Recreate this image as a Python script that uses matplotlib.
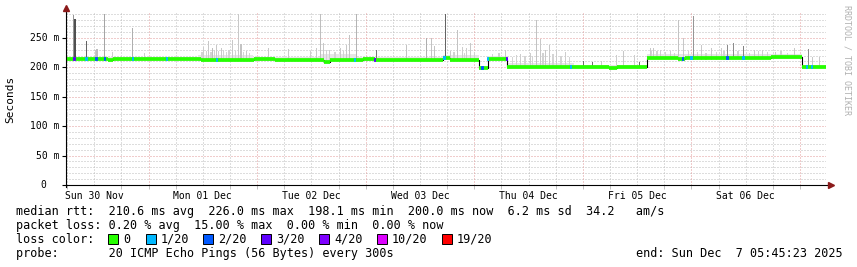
import numpy as np
import matplotlib
matplotlib.use("Agg")
import matplotlib.pyplot as plt
from matplotlib.patches import Rectangle

W, H = 857, 267

# time axis: hours since Sun 30 Nov 00:00, one week ending Sun Dec 7 05:45:23
t_start = 5.75
t_end = 173.75
day_labels = ["Sun 30 Nov", "Mon 01 Dec", "Tue 02 Dec", "Wed 03 Dec",
              "Thu 04 Dec", "Fri 05 Dec", "Sat 06 Dec"]

# median rtt as steps (start hour, level in ms)
med_start = [5.75, 15.0, 16.1, 30.0, 35.5, 47.2, 52.0, 62.7, 64.0, 71.5, 74.0,
             89.0, 90.7, 97.1, 99.1, 103.3, 125.7, 127.5, 134.1, 141.1, 142.6,
             144.0, 152.0, 161.7, 168.5]
med_ms = [214.5, 212.5, 214.5, 213.5, 212.5, 214.0, 212.5, 209.0, 212.5, 214.5, 212.5,
          216.5, 213.0, 199.5, 214.5, 200.0, 198.8, 200.0, 216.5, 214.0, 216.5,
          215.0, 216.2, 217.5, 200.0]

# background smoke band (hour range, top in ms)
band_h0 = [5.75, 35.0, 47.0, 62.0, 70.0, 89.0, 99.1, 103.3, 118.0, 134.1, 168.5]
band_h1 = [35.0, 47.0, 62.0, 70.0, 89.0, 97.1, 103.3, 118.0, 134.1, 168.5, 173.75]
band_top = [218, 221, 217, 222, 217, 221, 219, 207, 204, 222, 204]

# smoke spikes (hour, top in ms, gray level)
spike_h = [7.4, 7.65, 7.9, 10.3, 12.3, 12.6, 14.3, 16.0, 20.5, 23.1,
           35.8, 36.2, 36.8, 37.3, 37.8, 38.1, 38.6, 39.0, 39.5, 40.1,
           40.6, 41.2, 41.8, 42.6, 43.2, 43.9, 44.4, 45.0, 45.7, 46.3,
           50.5, 54.9, 59.8, 61.1, 62.0, 62.7, 63.4, 64.0, 65.2, 66.4,
           67.1, 67.8, 68.4, 70.0, 74.4, 81.0, 85.4, 86.5, 87.2, 89.6,
           90.7, 91.5, 92.3, 93.4, 93.9, 94.3, 95.2, 96.0, 100.0, 101.5,
           102.9, 104.5, 105.3, 106.2, 107.2, 108.4, 108.9, 109.7, 110.6, 111.2,
           111.7, 112.6, 113.4, 114.2, 115.2, 116.2, 117.0, 120.1, 122.1, 124.1,
           127.4, 129.0, 131.4, 132.5, 134.9, 135.2, 135.6, 136.4, 137.1, 138.2,
           139.4, 140.3, 141.1, 142.2, 143.3, 144.4, 145.3, 146.2, 147.2, 148.4,
           149.5, 150.6, 151.2, 152.0, 153.3, 154.3, 155.5, 156.8, 157.9, 158.8,
           159.7, 160.8, 162.6, 163.8, 165.3, 166.8, 169.9, 170.7, 172.3]
spike_top = [289, 282, 282, 245, 230, 231, 290, 226, 266, 225,
             226, 235, 228, 245, 226, 232, 229, 238, 227, 232,
             229, 226, 230, 247, 227, 290, 240, 226, 228, 225,
             232, 231, 228, 233, 290, 241, 229, 230, 226, 232,
             227, 238, 255, 290, 230, 238, 250, 250, 236, 290,
             228, 226, 264, 235, 225, 232, 241, 226, 222, 224,
             230, 218, 221, 222, 219, 225, 220, 281, 248, 224,
             230, 238, 222, 228, 220, 226, 218, 211, 209, 211,
             221, 227, 221, 209, 233, 228, 232, 227, 230, 226,
             228, 225, 280, 250, 227, 288, 226, 238, 225, 232,
             226, 232, 228, 238, 242, 227, 236, 225, 230, 227,
             230, 226, 226, 227, 225, 232, 231, 217, 217]
spike_gray = [150, 80, 80, 100, 200, 190, 165, 205, 175, 205,
              212, 205, 210, 200, 212, 190, 210, 200, 212, 200,
              210, 212, 210, 200, 212, 200, 195, 212, 200, 212,
              200, 200, 205, 200, 190, 200, 210, 205, 212, 200,
              210, 200, 195, 180, 120, 195, 175, 195, 195, 100,
              200, 210, 195, 205, 212, 205, 200, 210, 212, 210,
              200, 212, 210, 205, 212, 205, 212, 195, 200, 210,
              200, 200, 212, 205, 212, 205, 212, 110, 110, 200,
              205, 200, 205, 110, 200, 210, 200, 210, 205, 210,
              205, 210, 195, 200, 210, 150, 210, 200, 210, 200,
              210, 205, 210, 140, 140, 210, 130, 210, 200, 210,
              205, 210, 205, 210, 212, 200, 140, 200, 200]

# packet loss events (hour, lost pings of 20)
loss_h = [7.65, 10.3, 12.5, 14.3, 20.5, 28.0, 39.2, 69.7, 74.0, 89.4,
          97.8, 99.1, 103.2, 117.3, 142.2, 144.0, 152.0, 155.5, 169.6, 170.7]
loss_n = [3, 1, 2, 2, 1, 1, 1, 1, 3, 1,
          2, 1, 3, 1, 2, 1, 2, 1, 1, 1]

loss_levels = [0, 1, 2, 3, 4, 10, 19]
loss_labels = ["0", "1/20", "2/20", "3/20", "4/20", "10/20", "19/20"]
loss_colors = ["#26ff00", "#00b8ff", "#0059ff", "#5e00ff", "#7e00ff", "#dd00ff", "#ff0000"]

mono = "DejaVu Sans Mono"

fig = plt.figure(figsize=(W / 100, H / 100), dpi=100)
fig.patch.set_facecolor("white")
ax = fig.add_axes([66 / W, 82 / H, 760 / W, 173 / H])
ax.set_xlim(t_start, t_end)
ax.set_ylim(0, 0.294)
for s in ax.spines.values():
    s.set_visible(False)

# grid
minor_c = "#bdbdbd"
major_c = "#e39a9a"
dots = (0, (1, 2))
for v in range(10, 300, 10):
    c = major_c if v % 50 == 0 else minor_c
    ax.axhline(v / 1000, color=c, lw=0.72, ls=dots, zorder=0)
for h in range(6, 174, 6):
    if h < t_start:
        continue
    c = major_c if h % 24 == 0 else minor_c
    ax.axvline(h, color=c, lw=0.72, ls=dots, zorder=0)

ends = med_start[1:] + [t_end]
med_s = np.array(med_ms) / 1000


def median_at(h):
    i = np.searchsorted(med_start, h, side="right") - 1
    return med_ms[max(i, 0)]


# smoke
for h0, h1, top in zip(band_h0, band_h1, band_top):
    ax.fill_between([h0, h1], [(median_at(h0) - 2) / 1000] * 2, [top / 1000] * 2,
                    color="#e6e6e6", lw=0, zorder=1)
for h, top, g in zip(spike_h, spike_top, spike_gray):
    base = median_at(h) - 2
    ax.bar(h, (top - base) / 1000, bottom=base / 1000, width=0.3,
           color=(g / 255, g / 255, g / 255), lw=0, zorder=2)

# median line
ax.step(med_start + [t_end], list(med_s) + [med_s[-1]], where="post",
        color="black", lw=0.8, zorder=3)
ax.hlines(med_s, med_start, ends, color=loss_colors[0], lw=2.7, zorder=4)
for h, n in zip(loss_h, loss_n):
    c = loss_colors[loss_levels.index(n)]
    m = median_at(h) / 1000
    ax.hlines(m, h - 0.25, h + 0.25, color=c, lw=2.7, zorder=5)

# axes lines with arrows
ax.plot([t_start, t_start], [-0.004, 0.3], color="black", lw=0.8,
        clip_on=False, zorder=6)
ax.plot([t_start], [0.301], marker="^", color="#8b1a1a", ms=4, clip_on=False, zorder=7)
ax.plot([t_start, t_end + 0.9], [0, 0], color="black", lw=0.8, clip_on=False, zorder=6)
ax.plot([t_end + 1.0], [0], marker=">", color="#8b1a1a", ms=4, clip_on=False, zorder=7)

# ticks
ax.set_xticks([12 + 24 * i for i in range(7)])
ax.set_xticklabels(day_labels, fontfamily=mono, fontsize=7)
ax.tick_params(axis="x", length=0, pad=4)
ax.set_xticks([h for h in range(6, 174, 6) if h >= t_start], minor=True)
ax.tick_params(axis="x", which="minor", length=3, color="#c0c0c0", width=0.7)
ax.set_yticks([v / 1000 for v in range(0, 300, 50)])
ax.set_yticklabels([])
ax.tick_params(axis="y", length=3, width=0.8)
ytr = ax.get_yaxis_transform()
for v in range(0, 300, 50):
    if v == 0:
        ax.text(-19.3 / 760, 0, "0", transform=ytr, ha="right", va="center",
                fontfamily=mono, fontsize=7)
    else:
        ax.text(-6.7 / 760, v / 1000, f"{v} m", transform=ytr, ha="right", va="center",
                fontfamily=mono, fontsize=7)

fig.text(10.5 / W, 1 - 99 / H, "Seconds", rotation=90, ha="center", va="center",
         fontfamily=mono, fontsize=8)
fig.text(847 / W, 1 - 5 / H, "RRDTOOL / TOBI OETIKER", rotation=270, ha="center",
         va="top", fontfamily=mono, fontsize=6, color="#b0b0b0")

# legend
lines = [
    "median rtt:  210.6 ms avg  226.0 ms max  198.1 ms min  200.0 ms now  6.2 ms sd  34.2   am/s",
    "packet loss: 0.20 % avg  15.00 % max  0.00 % min  0.00 % now",
    "loss color:",
    "probe:       20 ICMP Echo Pings (56 Bytes) every 300s",
]
for i, s in enumerate(lines):
    fig.text(16 / W, 1 - (211.5 + 14 * i) / H, s, ha="left", va="center",
             fontfamily=mono, fontsize=8.5)
box_x = [108, 146, 203, 261, 319, 377, 442]
for bx, lab, c in zip(box_x, loss_labels, loss_colors):
    fig.patches.append(Rectangle((bx / W, 1 - 244 / H), 10 / W, 10 / H,
                                 transform=fig.transFigure, facecolor=c,
                                 edgecolor="black", lw=0.7))
    fig.text((bx + 15) / W, 1 - 239.5 / H, lab, ha="left", va="center",
             fontfamily=mono, fontsize=8.5)
fig.text(843 / W, 1 - 253.5 / H, "end: Sun Dec  7 05:45:23 2025", ha="right",
         va="center", fontfamily=mono, fontsize=8.5)

fig.savefig("out.png", dpi=100, facecolor="white")
